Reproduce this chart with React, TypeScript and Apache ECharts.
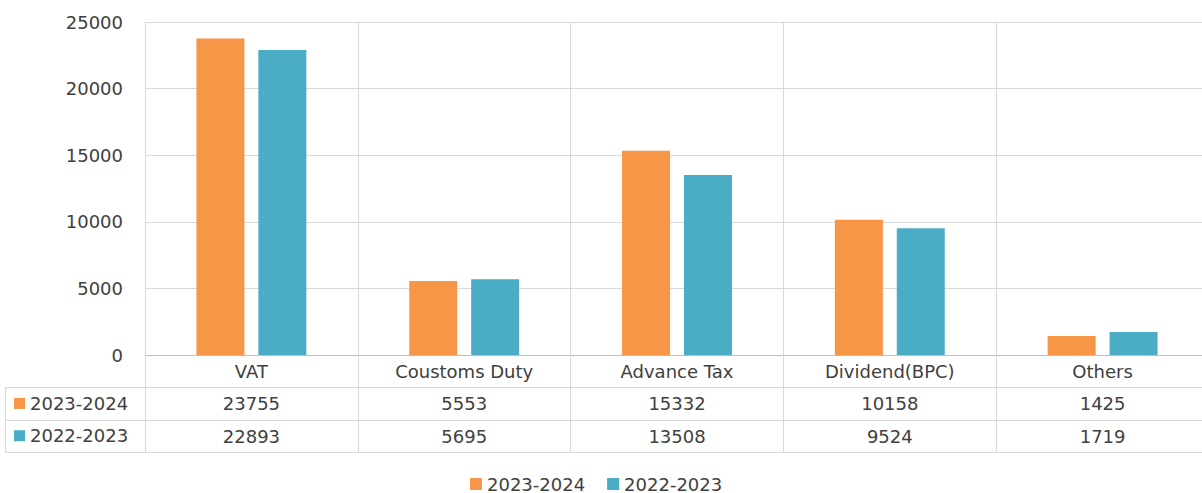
import React, { useEffect, useRef } from "react";
import * as echarts from "echarts";

const categories = ["VAT", "Coustoms Duty", "Advance Tax", "Dividend(BPC)", "Others"];
const seriesNames = ["2023-2024", "2022-2023"];
const values2324 = [23755, 5553, 15332, 10158, 1425];
const values2223 = [22893, 5695, 13508, 9524, 1719];
const colors = ["#F79646", "#4BACC6"];

const FONT = "DejaVu Sans";
const GRID_LINE = "#d9d9d9";
const TEXT = "#404040";

export default function App() {
  const ref = useRef<HTMLDivElement>(null);
  useEffect(() => {
    if (!ref.current) return;
    const chart = echarts.init(ref.current, undefined, { renderer: "svg" });
    const left = 145;
    const top = 22;
    const plotH = 333;
    const base = top + plotH;
    const rowH = 32.3;
    const allValues = [values2324, values2223];
    const lineStyle = { color: GRID_LINE, width: 1 };

    const graphics: any[] = [];
    for (let r = 1; r <= 3; r++) {
      const y = Math.round(base + rowH * r) + 0.5;
      graphics.push({
        type: "line",
        shape: { x1: 5, y1: y, x2: left, y2: y },
        style: { stroke: GRID_LINE, lineWidth: 1 },
      });
    }
    graphics.push({
      type: "line",
      shape: { x1: 5.5, y1: Math.round(base + rowH) + 0.5, x2: 5.5, y2: Math.round(base + rowH * 3) + 0.5 },
      style: { stroke: GRID_LINE, lineWidth: 1 },
    });
    seriesNames.forEach((name, i) => {
      const cy = base + rowH * (i + 1.5);
      graphics.push({
        type: "rect",
        shape: { x: 14, y: cy - 5.5, width: 11, height: 11 },
        style: { fill: colors[i] },
      });
      graphics.push({
        type: "text",
        x: 30,
        y: cy,
        style: {
          text: name,
          fill: TEXT,
          font: `18px '${FONT}'`,
          verticalAlign: "middle",
          align: "left",
        },
      });
    });

    const tableAxis = (idx: number, offset: number, showLabel: boolean) => ({
      type: "category",
      data: categories,
      gridIndex: 0,
      position: "bottom",
      offset,
      axisLine: { show: true, lineStyle },
      axisTick: { show: false },
      splitLine: { show: false },
      axisLabel: {
        show: showLabel,
        interval: 0,
        margin: 7,
        color: TEXT,
        fontFamily: FONT,
        fontSize: 18,
        formatter: (_v: string, i: number) => (showLabel ? String(allValues[idx][i]) : ""),
      },
    });

    chart.setOption({
      animation: false,
      color: colors,
      textStyle: { fontFamily: FONT },
      grid: { left, top, width: 1064, height: plotH, containLabel: false },
      legend: {
        data: seriesNames,
        left: 465,
        top: 469,
        icon: "rect",
        itemWidth: 12,
        itemHeight: 12,
        itemGap: 22,
        textStyle: { color: TEXT, fontFamily: FONT, fontSize: 18, lineHeight: 20 },
      },
      xAxis: [
        {
          type: "category",
          data: categories,
          position: "bottom",
          axisLine: { show: true, lineStyle: { color: "#bfbfbf", width: 1 } },
          axisTick: { show: true, length: Math.round(rowH * 3), interval: 0, lineStyle },
          splitLine: { show: true, interval: 0, lineStyle },
          axisLabel: {
            interval: 0,
            margin: 7,
            color: TEXT,
            fontFamily: FONT,
            fontSize: 18,
          },
        },
        tableAxis(0, Math.round(rowH), true),
        tableAxis(1, Math.round(rowH * 2), true),
        tableAxis(0, Math.round(rowH * 3), false),
      ],
      yAxis: {
        type: "value",
        min: 0,
        max: 25000,
        interval: 5000,
        axisLine: { show: true, lineStyle },
        axisTick: { show: false },
        splitLine: { show: true, lineStyle },
        axisLabel: {
          margin: 22,
          color: TEXT,
          fontFamily: FONT,
          fontSize: 18,
          formatter: (v: number) => String(v),
        },
      },
      series: [
        {
          name: seriesNames[0],
          type: "bar",
          data: values2324,
          barWidth: 48,
          barGap: "29%",
          itemStyle: { color: colors[0] },
        },
        {
          name: seriesNames[1],
          type: "bar",
          data: values2223,
          barWidth: 48,
          barGap: "29%",
          itemStyle: { color: colors[1] },
        },
      ],
      graphic: graphics,
    });
    return () => chart.dispose();
  }, []);
  return (
    <div
      style={{
        position: "fixed",
        left: 0,
        top: 0,
        width: 1202,
        height: 493,
        overflow: "hidden",
        background: "#fff",
      }}
    >
      <div ref={ref} style={{ width: 1220, height: 493 }} />
    </div>
  );
}
